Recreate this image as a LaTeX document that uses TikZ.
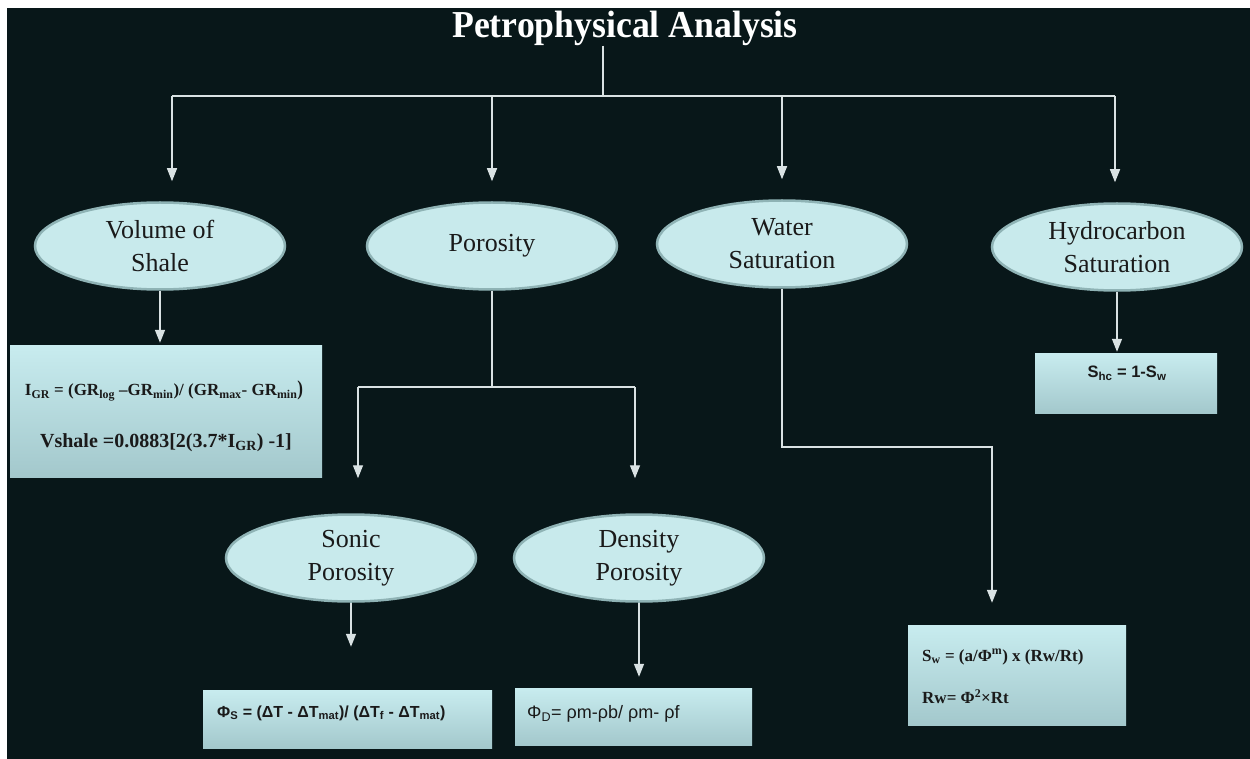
\documentclass[tikz,border=0pt]{standalone}
\usepackage{fontspec}
\setmainfont{Liberation Serif}
\newfontfamily\arialfont{Liberation Sans}
\usetikzlibrary{shapes.geometric,arrows.meta}
\definecolor{bgc}{HTML}{081719}
\definecolor{ellfill}{HTML}{C8EAEC}
\definecolor{elledge}{HTML}{8FB3B5}
\definecolor{boxtop}{HTML}{C8ECEF}
\definecolor{boxbot}{HTML}{A3C8CC}
\definecolor{linec}{HTML}{D9E2E3}
\definecolor{inkc}{HTML}{1A1A1A}
\begin{document}
\begin{tikzpicture}[x=1pt,y=-1pt,
  ell/.style={ellipse, fill=ellfill, draw=elledge, line width=2.5pt,
    minimum width=250pt, minimum height=87pt, inner sep=0pt, align=center,
    font=\fontsize{26}{33}\selectfont, text=inkc},
  fbox/.style={rectangle, top color=boxtop, bottom color=boxbot, draw=none, inner sep=0pt},
  ln/.style={draw=linec, line width=1.4pt},
  arr/.style={ln, -{Triangle[width=10pt,length=13pt,fill=linec]}},
  ftxt/.style={inner sep=0pt, text=inkc}
]
\useasboundingbox (0,0) rectangle (1250,759);
\fill[white] (0,0) rectangle (1250,759);
\fill[bgc] (7,8) rectangle (1250,759);

% title
\node[text=white, font=\fontsize{34}{36}\selectfont\bfseries, inner sep=0pt] (title) at (625,28)
  {\scalebox{1.05}[1.12]{Petrophysical Analysis}};

% ellipses
\node[ell] (vs)  at (160,246)  {Volume of\\Shale};
\node[ell] (por) at (492,246)  {Porosity};
\node[ell] (ws)  at (782,244)  {Water\\Saturation};
\node[ell] (hs)  at (1117,247) {Hydrocarbon\\Saturation};
\node[ell] (son) at (351,558)  {Sonic\\Porosity};
\node[ell] (den) at (639,558)  {Density\\Porosity};

% formula boxes
\node[fbox, minimum width=312pt, minimum height=132pt] (vbox) at (166,411) {};
\node[fbox, minimum width=182pt, minimum height=60pt]  (hbox) at (1126,383) {};
\node[fbox, minimum width=289pt, minimum height=58pt]  (sbox) at (347.5,719) {};
\node[fbox, minimum width=237pt, minimum height=57pt]  (dbox) at (633.5,716.5) {};
\node[fbox, minimum width=218pt, minimum height=100pt] (wbox) at (1017,675) {};

% formula texts
\node[ftxt, font=\fontsize{17}{20}\selectfont\bfseries] (vt1) at (164,391)
  {I\textsubscript{GR} = (GR\textsubscript{log} --GR\textsubscript{min})/ (GR\textsubscript{max}- GR\textsubscript{min}\scalebox{1}[1.25]{)}};
\node[ftxt, font=\fontsize{20}{22}\selectfont\bfseries] (vt2) at (166,443)
  {Vshale =0.0883[2(3.7*I\textsubscript{GR}) -1]};
\node[ftxt, font=\arialfont\fontsize{16.5}{18}\selectfont\bfseries] (ht) at (1127,373)
  {S\textsubscript{hc} = 1-S\textsubscript{w}};
\node[ftxt, font=\arialfont\fontsize{16}{18}\selectfont\bfseries, anchor=west] (st) at (217,713)
  {Φ\textsubscript{S} = (ΔT - ΔT\textsubscript{mat})/ (ΔT\textsubscript{f} - ΔT\textsubscript{mat})};
\node[ftxt, font=\arialfont\fontsize{18}{20}\selectfont, anchor=west] (dt) at (527,714)
  {Φ\textsubscript{D}= ρm-ρb/ ρm- ρf};
\node[ftxt, font=\fontsize{17}{19}\selectfont\bfseries, anchor=west] (wt1) at (922,657)
  {S\textsubscript{w} = (a/Φ\textsuperscript{m}) x (Rw/Rt)};
\node[ftxt, font=\fontsize{17}{19}\selectfont\bfseries, anchor=west] (wt2) at (922,697)
  {Rw= Φ\textsuperscript{2}×Rt};

% connectors
\coordinate (hub)  at (603,96);
\coordinate (busL) at (172,96);
\coordinate (busR) at (1115,96);
\draw[ln] (title.south -| hub) -- (hub);
\draw[ln] (busL) -- (busR);
\draw[arr, shorten >=20pt] (busL) -- (busL |- vs.north);
\draw[arr, shorten >=20pt] (por.north |- busL) -- (por.north);
\draw[arr, shorten >=20pt] (ws.north |- busL) -- (ws.north);
\draw[arr, shorten >=20pt] (busR) -- (busR |- hs.north);

\draw[arr, shorten >=2pt] (vs.south) -- (vs.south |- vbox.north);
\draw[arr, shorten >=1pt] (hs.south) -- (hs.south |- hbox.north);

\coordinate (pL) at (358,387);
\coordinate (pR) at (635,387);
\draw[ln] (por.south) -- (por.south |- pL);
\draw[ln] (pL) -- (pR);
\draw[arr, shorten >=35pt] (pL) -- (pL |- son.north);
\draw[arr, shorten >=35pt] (pR) -- (pR |- den.north);
\draw[arr, shorten >=43pt] (son.south) -- (son.south |- sbox.north);
\draw[arr, shorten >=11pt] (den.south) -- (den.south |- dbox.north);

\coordinate (wc) at (992,447);
\draw[arr, shorten >=22pt] (ws.south) |- (wc) -- (wc |- wbox.north);
\end{tikzpicture}
\end{document}
